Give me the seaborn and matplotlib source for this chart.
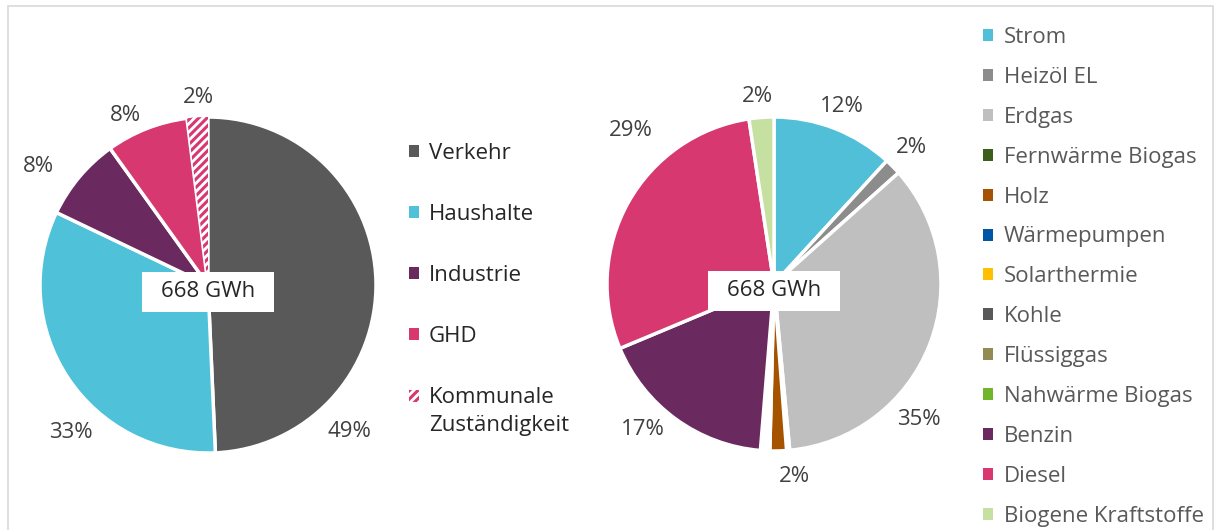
import matplotlib
matplotlib.use("Agg")
import matplotlib.pyplot as plt
from matplotlib.patches import Patch, Rectangle
from matplotlib.legend_handler import HandlerPatch
import numpy as np
import seaborn as sns

# --- data -------------------------------------------------------------
sectors = ["Verkehr", "Haushalte", "Industrie", "GHD", "Kommunale\nZuständigkeit"]
sector_share = [49.3, 32.8, 8.0, 7.9, 2.0]
sector_colors = ["#595959", "#4FC1D9", "#6B2A5F", "#D6386F", "#D6386F"]

carriers = ["Strom", "Heizöl EL", "Erdgas", "Fernwärme Biogas", "Holz",
            "Wärmepumpen", "Solarthermie", "Kohle", "Flüssiggas",
            "Nahwärme Biogas", "Benzin", "Diesel", "Biogene Kraftstoffe"]
carrier_share = [11.8, 1.6, 35.1, 0.3, 1.6, 0.3, 0.1, 0.1, 0.3, 0.1, 17.4, 28.9, 2.4]
carrier_colors = ["#52BFD8", "#8C8C8C", "#BFBFBF", "#3B5E1C", "#A65300",
                  "#0055A5", "#FFC000", "#595959", "#948A54", "#70B62C",
                  "#6B2A5F", "#D6386F", "#C5E0A0"]

total_label = "668 GWh"

# label placement (angle clockwise from 12 o'clock, distance in radii),
# mimicking Excel's "best fit" data labels
left_label_pos = [(136, 1.21), (223, 1.20), (305, 1.23), (334, 1.12), (357, 1.12)]
right_label_pos = {"Strom": (21, 1.14), "Heizöl EL": (45, 1.16),
                   "Erdgas": (133, 1.19), "Holz": (174, 1.16),
                   "Benzin": (222, 1.17), "Diesel": (317, 1.26),
                   "Biogene Kraftstoffe": (355, 1.13)}

# --- style ------------------------------------------------------------
sns.set_style("white")
plt.rcParams["font.family"] = ["Open Sans", "DejaVu Sans"]
plt.rcParams["hatch.linewidth"] = 2.2

W, H = 1215, 530
FS = 16
fig = plt.figure(figsize=(W / 100, H / 100), dpi=100)


def px_axes(cx, cy, r):
    return fig.add_axes([(cx - r) / W, (H - cy - r) / H, 2 * r / W, 2 * r / H])


def draw_pie(ax, names, shares, colors, label_pos):
    wedges, _ = ax.pie(shares, colors=colors, startangle=90, counterclock=False,
                       radius=1, wedgeprops=dict(edgecolor="white", linewidth=2.5))
    ax.set_xlim(-1, 1)
    ax.set_ylim(-1, 1)
    ax.set_aspect("equal")
    ax.axis("off")
    total = sum(shares)
    for name, s in zip(names, shares):
        if name not in label_pos:
            continue
        cw, dist = label_pos[name]
        ang = np.deg2rad(90 - cw)
        ax.text(dist * np.cos(ang), dist * np.sin(ang), f"{s / total * 100:.0f}%",
                ha="center", va="center", fontsize=FS, color="#404040")
    ax.text(0, -0.04, total_label, ha="center", va="center", fontsize=FS,
            color="#262626",
            bbox=dict(boxstyle="square,pad=0.83", mutation_aspect=0.52,
                      fc="white", ec="none"))
    return wedges


ax1 = px_axes(208, 285, 168)
w1 = draw_pie(ax1, sectors, sector_share, sector_colors,
              dict(zip(sectors, left_label_pos)))
# hatched slice for the municipal share
w1[-1].set_facecolor("white")
w1[-1].set_edgecolor("#D6386F")
w1[-1].set_hatch("////")
w1[-1].set_linewidth(0)

ax2 = px_axes(774, 284, 167)
draw_pie(ax2, carriers, carrier_share, carrier_colors, right_label_pos)


# legend handle that sits on the first line of a two-line label
def first_line_patch(legend, orig_handle, xdescent, ydescent, width, height, fontsize):
    return Rectangle((-xdescent, -ydescent + 0.72 * fontsize), width, height)


h1 = [Patch(facecolor=c, edgecolor="none") for c in sector_colors[:-1]]
h_kom = Patch(facecolor="white", edgecolor="#D6386F", hatch="////", linewidth=0)
h1.append(h_kom)
leg1 = fig.legend(h1, sectors, loc="upper left",
                  bbox_to_anchor=(409 / W, 1 - 143 / H), frameon=False,
                  fontsize=FS, handlelength=0.45, handleheight=0.45,
                  handletextpad=0.45, labelspacing=1.8, borderpad=0,
                  borderaxespad=0,
                  handler_map={h_kom: HandlerPatch(patch_func=first_line_patch)})
for t in leg1.get_texts():
    t.set_color("#262626")
    t.set_linespacing(1.45)

h2 = [Patch(facecolor=c, edgecolor="none") for c in carrier_colors]
leg2 = fig.legend(h2, carriers, loc="upper left",
                  bbox_to_anchor=(983 / W, 1 - 27 / H), frameon=False,
                  fontsize=FS, handlelength=0.45, handleheight=0.45,
                  handletextpad=0.5, labelspacing=0.85, borderpad=0,
                  borderaxespad=0)
for t in leg2.get_texts():
    t.set_color("#595959")

# chart area frame
fig.patches.append(Rectangle((8 / W, -0.05), (W - 10) / W, 1.05 - 6 / H,
                             transform=fig.transFigure, fill=False,
                             edgecolor="#D9D9D9", linewidth=1.2))

fig.savefig("out.png", dpi=100)
